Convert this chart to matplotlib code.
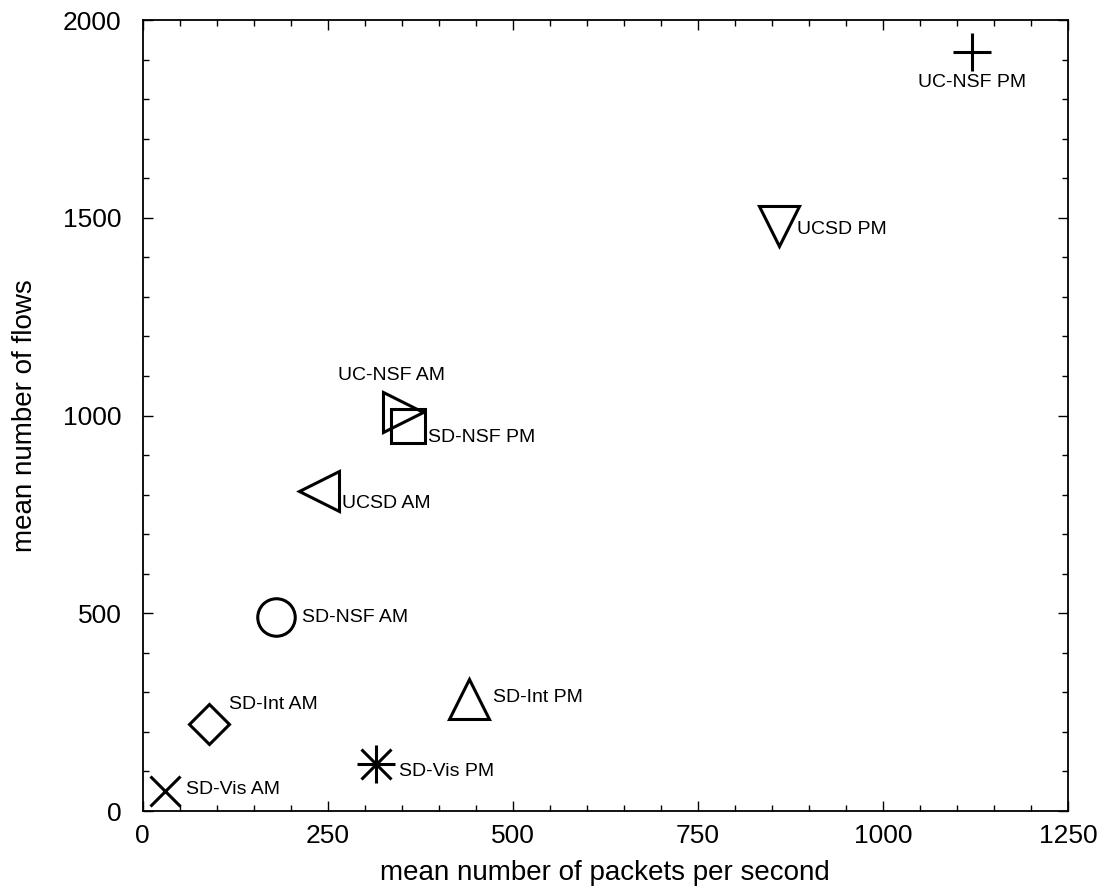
import matplotlib
matplotlib.use("Agg")
import matplotlib.pyplot as plt
from matplotlib.ticker import MultipleLocator

plt.rcParams['font.family'] = ['Liberation Sans', 'DejaVu Sans']

labels = ["UC-NSF PM", "UCSD PM", "UC-NSF AM", "SD-NSF PM", "UCSD AM",
          "SD-NSF AM", "SD-Int AM", "SD-Int PM", "SD-Vis PM", "SD-Vis AM"]
pps = [1120, 860, 352, 358, 238, 180, 90, 441, 315, 30]
flows = [1920, 1478, 1010, 973, 810, 490, 220, 282, 120, 50]

markers = ['+', 'v', '>', 's', '<', 'o', 'D', '^', None, 'x']
sizes = [28, 29, 29, 24, 29, 27, 20, 29, 0, 21]
label_offsets = [(0, -31), (18, -3), (-12, 36), (20, -11), (23, -13),
                 (26, 0), (20, 20), (24, 2), (23, -8), (21, 2)]
label_ha = ['center'] + ['left'] * 9
label_ha[2] = 'center'

fig = plt.figure(figsize=(11.09, 8.93), dpi=100)
ax = fig.add_axes([0.1285, 0.0918, 0.8345, 0.8858])

lw = 2.2
for i, (x, y) in enumerate(zip(pps, flows)):
    m = markers[i]
    if m is None:
        ax.plot([x], [y], marker='+', ms=28, mew=lw, color='black', ls='none')
        ax.plot([x], [y], marker='x', ms=21, mew=lw, color='black', ls='none')
    else:
        ax.plot([x], [y], marker=m, ms=sizes[i], mew=lw, mfc='none',
                mec='black', color='black', ls='none')
    dx, dy = label_offsets[i]
    ax.annotate(labels[i], (x, y), xytext=(dx * 0.72, dy * 0.72),
                textcoords='offset points', ha=label_ha[i], va='center',
                fontsize=14, color='black')

ax.set_xlim(0, 1250)
ax.set_ylim(0, 2000)
ax.xaxis.set_major_locator(MultipleLocator(250))
ax.xaxis.set_minor_locator(MultipleLocator(50))
ax.yaxis.set_major_locator(MultipleLocator(500))
ax.yaxis.set_minor_locator(MultipleLocator(100))
ax.tick_params(which='both', direction='in', top=True, right=True,
               labelsize=19, width=1)
ax.tick_params(which='major', length=7)
ax.tick_params(which='minor', length=4)
ax.tick_params(axis='y', which='major', pad=15)
ax.tick_params(axis='x', which='major', pad=9)
for s in ax.spines.values():
    s.set_linewidth(1.3)

ax.set_xlabel("mean number of packets per second", fontsize=20, labelpad=9)
ax.set_ylabel("mean number of flows", fontsize=20)
ax.yaxis.set_label_coords(-0.113, 0.5)

fig.savefig("out.png", dpi=100)
